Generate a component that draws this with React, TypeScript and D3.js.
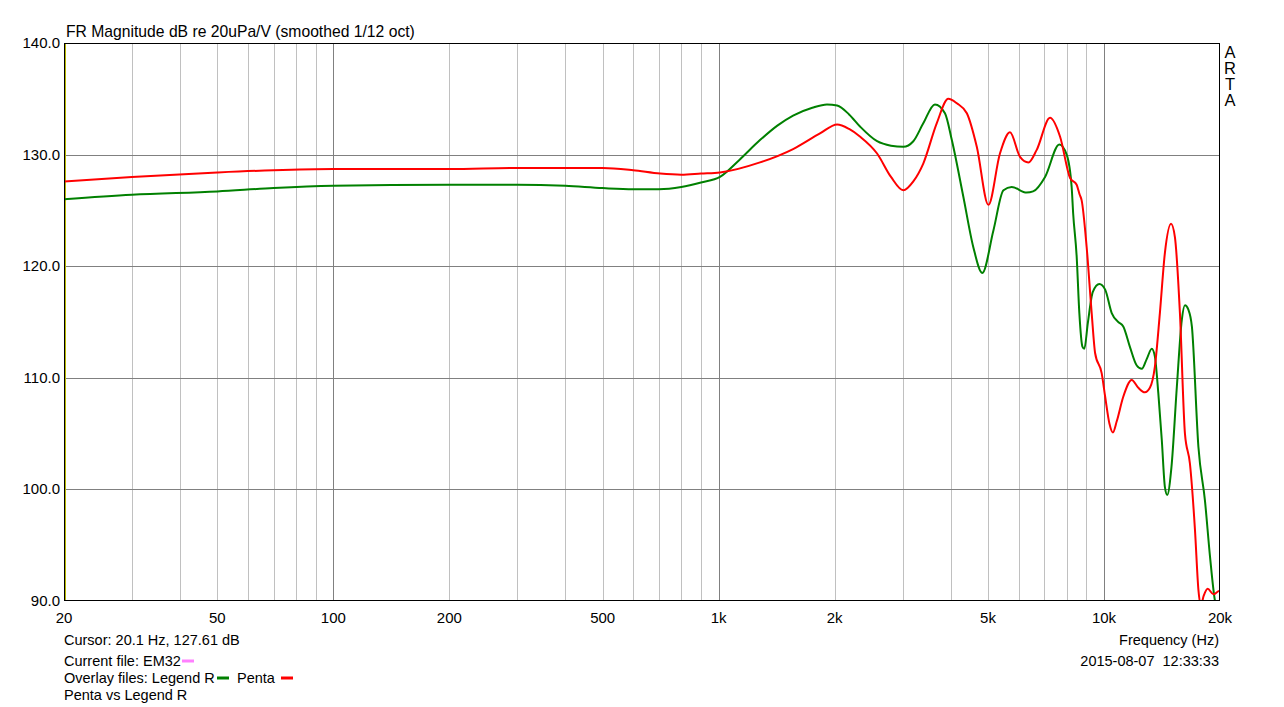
import React from "react";
import * as d3 from "d3";

const freqTicks = [20, 50, 100, 200, 500, 1000, 2000, 5000, 10000, 20000];
const freqTickLabels = ["20", "50", "100", "200", "500", "1k", "2k", "5k", "10k", "20k"];
const dbTicks = [90, 100, 110, 120, 130, 140];

const legendR: [number, number][] = [
  [20, 126.0], [30, 126.4], [50, 126.7], [70, 127.0], [100, 127.2], [200, 127.3], [300, 127.3],
  [400, 127.2], [500, 127.0], [600, 126.9], [700, 126.9], [800, 127.1], [900, 127.5], [1008, 128.0],
  [1130, 129.5], [1280, 131.3], [1420, 132.6], [1560, 133.5], [1750, 134.2], [1910, 134.5], [2030, 134.4],
  [2180, 133.6], [2330, 132.5], [2577, 131.2], [2800, 130.8], [3014, 130.7], [3200, 131.2], [3396, 132.8],
  [3640, 134.5], [3866, 133.7], [4028, 131.3], [4316, 126.2], [4580, 121.7], [4832, 119.4], [5164, 123.2],
  [5484, 126.8], [5758, 127.1], [6296, 126.6], [6546, 126.7], [7032, 128.0], [7656, 130.9], [8000, 130.0],
  [8242, 127.1], [8318, 124.7], [8492, 120.9], [8630, 115.8], [8790, 112.8], [8892, 112.6], [9078, 114.9],
  [9354, 117.7], [9728, 118.4], [10070, 117.9], [10472, 115.8], [10890, 115.0], [11220, 114.6], [11668, 112.8],
  [12162, 111.1], [12532, 110.8], [12914, 111.7], [13306, 112.6], [13554, 111.9], [13836, 108.6], [14126, 104.4],
  [14390, 100.2], [14590, 99.5], [14964, 102.0], [15454, 109.2], [15920, 115.2], [16220, 116.5], [16558, 116.1],
  [16906, 114.6], [17580, 103.8], [18280, 99.0], [18838, 94.0], [19412, 90.0], [20000, 88.8],
];

const penta: [number, number][] = [
  [20, 127.6], [30, 128.0], [50, 128.4], [70, 128.6], [100, 128.7], [200, 128.7], [300, 128.8],
  [500, 128.8], [600, 128.6], [705, 128.3], [800, 128.2], [900, 128.3], [1008, 128.4], [1280, 129.3],
  [1560, 130.5], [1832, 131.9], [2030, 132.7], [2180, 132.3], [2330, 131.6], [2577, 130.1], [2800, 128.0],
  [3014, 126.8], [3200, 127.6], [3396, 129.2], [3680, 132.8], [3944, 135.0], [4150, 134.6], [4406, 133.7],
  [4676, 130.7], [5012, 125.5], [5370, 130.1], [5702, 132.0], [6054, 129.8], [6368, 129.3], [6684, 130.4],
  [7244, 133.3], [7692, 131.6], [8166, 127.9], [8492, 127.3], [8650, 126.4], [8750, 125.9], [9016, 121.7],
  [9290, 115.8], [9484, 112.2], [9864, 110.4], [10070, 108.3], [10328, 105.9], [10544, 105.1], [10790, 106.1],
  [11220, 108.3], [11804, 109.8], [12276, 109.1], [12766, 108.7], [13154, 109.1], [13554, 111.0], [13964, 115.8],
  [14390, 121.2], [14928, 123.8], [15276, 122.6], [15740, 115.8], [16220, 105.0], [16712, 102.3], [17220, 96.4],
  [17580, 91.0], [17826, 89.6], [18156, 90.5], [18578, 91.1], [19232, 90.6], [19908, 90.9], [20000, 90.9],
];

const W = 1284;
const H = 707;
const L = 64, R = 1220, T = 43, B = 601;
const FONT = "'Liberation Sans', Arial, sans-serif";

export default function App() {
  const x = d3.scaleLog().domain([20, 20000]).range([L, R]);
  const y = d3.scaleLinear().domain([90, 140]).range([B, T]);

  const major: number[] = [100, 1000, 10000];
  const minor: number[] = [];
  for (const dec of [10, 100, 1000]) {
    for (let m = 2; m <= 9; m++) {
      const f = m * dec;
      if (f > 20 && f < 20000 && !major.includes(f)) minor.push(f);
    }
  }

  const line = d3
    .line<[number, number]>()
    .x((d) => x(d[0]))
    .y((d) => y(d[1]))
    .curve(d3.curveMonotoneX);

  return (
    <svg width={W} height={H} style={{ position: "absolute", left: 0, top: 0, background: "#fff" }} fontFamily={FONT}>
      <rect x={0} y={0} width={W} height={H} fill="#fff" />
      <defs>
        <clipPath id="plot">
          <rect x={L} y={T} width={R - L} height={B - T} />
        </clipPath>
      </defs>
      {minor.map((f) => (
        <line key={"mi" + f} x1={Math.round(x(f)) + 0.5} x2={Math.round(x(f)) + 0.5} y1={T} y2={B} stroke="#c0c0c0" strokeWidth={1} />
      ))}
      {major.map((f) => (
        <line key={"ma" + f} x1={Math.round(x(f)) + 0.5} x2={Math.round(x(f)) + 0.5} y1={T} y2={B} stroke="#808080" strokeWidth={1} />
      ))}
      {dbTicks.slice(1, -1).map((v) => (
        <line key={"h" + v} x1={L} x2={R} y1={Math.round(y(v)) + 0.5} y2={Math.round(y(v)) + 0.5} stroke="#808080" strokeWidth={1} />
      ))}
      <line x1={Math.round(x(20.1)) + 0.5} x2={Math.round(x(20.1)) + 0.5} y1={T} y2={B} stroke="#b8b800" strokeWidth={1} />
      <g clipPath="url(#plot)">
        <path d={line(legendR) || ""} fill="none" stroke="#008000" strokeWidth={2} strokeLinejoin="round" />
        <path d={line(penta) || ""} fill="none" stroke="#ff0000" strokeWidth={2} strokeLinejoin="round" />
      </g>
      <rect x={L + 0.5} y={T + 0.5} width={R - L - 1} height={B - T - 1} fill="none" stroke="#000" strokeWidth={1} />

      <text x={66} y={37} fontSize={15.7} fill="#000">FR Magnitude dB re 20uPa/V (smoothed 1/12 oct)</text>
      {dbTicks.map((v) => (
        <text key={"yl" + v} x={60} y={y(v) + 5} fontSize={15} textAnchor="end" fill="#000">
          {v.toFixed(1)}
        </text>
      ))}
      {freqTicks.map((f, i) => (
        <text key={"xl" + f} x={x(f)} y={623} fontSize={15} textAnchor="middle" fill="#000">
          {freqTickLabels[i]}
        </text>
      ))}
      {["A", "R", "T", "A"].map((c, i) => (
        <text key={"a" + i} x={1230} y={58 + i * 16} fontSize={16.5} textAnchor="middle" fill="#000">
          {c}
        </text>
      ))}

      <text x={64} y={645} fontSize={14.5} fill="#000">Cursor: 20.1 Hz, 127.61 dB</text>
      <text x={64} y={666} fontSize={14.5} fill="#000">Current file: EM32</text>
      <line x1={182} x2={194} y1={661} y2={661} stroke="#ff80ff" strokeWidth={3} />
      <text x={64} y={683} fontSize={14.5} fill="#000">Overlay files: Legend R</text>
      <line x1={217} x2={229} y1={678} y2={678} stroke="#008000" strokeWidth={3} />
      <text x={237} y={683} fontSize={14.5} fill="#000">Penta</text>
      <line x1={281} x2={293} y1={678} y2={678} stroke="#ff0000" strokeWidth={3} />
      <text x={64} y={700} fontSize={14.5} fill="#000">Penta vs Legend R</text>

      <text x={1219} y={645} fontSize={14.5} textAnchor="end" fill="#000">Frequency (Hz)</text>
      <text x={1219} y={666} fontSize={14.5} textAnchor="end" fill="#000" style={{ whiteSpace: "pre" }}>
        2015-08-07  12:33:33
      </text>
    </svg>
  );
}
